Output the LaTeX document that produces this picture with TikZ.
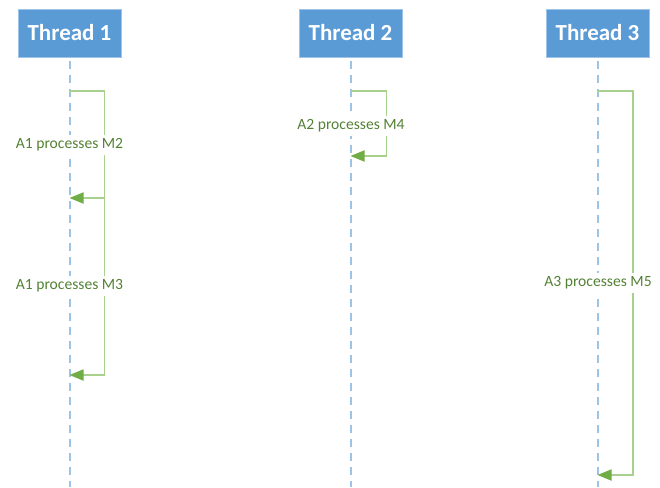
\documentclass[tikz,border=0pt]{standalone}
\usepackage{fontspec}
\setmainfont{Carlito}
\usetikzlibrary{arrows.meta}
\definecolor{boxblue}{HTML}{5B9BD5}
\definecolor{lifeblue}{HTML}{9DC3E6}
\definecolor{msggreen}{HTML}{A9D18E}
\definecolor{headgreen}{HTML}{70AD47}
\definecolor{labelgreen}{HTML}{548235}
\tikzset{
  thread/.style={fill=boxblue, draw=boxblue!60!white, line width=0.6pt, text=white, font=\fontsize{23}{25}\selectfont\bfseries, minimum width=103pt, minimum height=48pt, inner sep=0pt},
  lifeline/.style={draw=lifeblue, line width=2pt, dash pattern=on 8pt off 6pt},
  selfmsg/.style={draw=msggreen, line width=1.8pt, -{Triangle[length=14pt,width=11pt,color=headgreen]}},
  msglabel/.style={fill=white, text=labelgreen, font=\fontsize{15.6}{17}\selectfont, inner xsep=1pt, inner ysep=4pt}
}
\begin{document}
\begin{tikzpicture}[x=1pt,y=-1pt]
\useasboundingbox (0,0) rectangle (660,487);
\node[thread] (t1) at (69.5,33) {Thread 1};
\node[thread] (t2) at (350.5,33) {Thread 2};
\node[thread] (t3) at (597.5,33) {Thread 3};
% lifeline ends
\coordinate (e1) at (69.5,487);
\coordinate (e2) at (350.5,487);
\coordinate (e3) at (597.5,487);
\draw[lifeline] (t1.south) ++(0,4) -- (e1);
\draw[lifeline] (t2.south) ++(0,4) -- (e2);
\draw[lifeline] (t3.south) ++(0,4) -- (e3);
% message points
\coordinate (a1s) at (69.5,91);
\coordinate (a1m) at (69.5,198);
\coordinate (a1e) at (69.5,375);
\coordinate (a2s) at (350.5,91);
\coordinate (a2e) at (350.5,156);
\coordinate (a3s) at (597.5,91);
\coordinate (a3e) at (597.5,475);
\draw[selfmsg] (a1s) -- ++(35,0) |- (a1m);
\draw[selfmsg] ([xshift=35pt]a1m) |- (a1e);
\draw[selfmsg] (a2s) -- ++(36,0) |- (a2e);
\draw[selfmsg] (a3s) -- ++(35.5,0) |- (a3e);
% labels
\node[msglabel] (l1) at (69.5,145) {A1 processes M2};
\node[msglabel] (l2) at (69.5,286) {A1 processes M3};
\node[msglabel] (l3) at (351,126) {A2 processes M4};
\node[msglabel] (l4) at (598,283) {A3 processes M5};
\end{tikzpicture}
\end{document}
